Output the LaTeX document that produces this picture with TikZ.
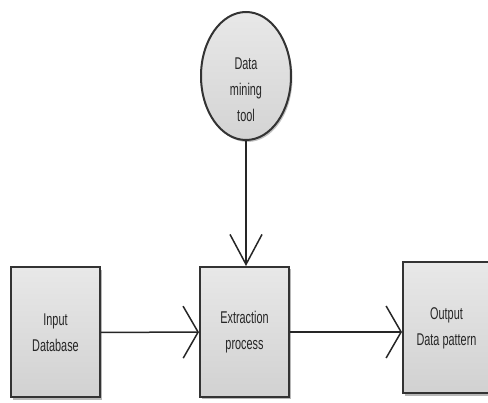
\documentclass[tikz,border=0pt]{standalone}
\usepackage{fontspec}
\newfontfamily\diagfont[FakeStretch=0.64]{Liberation Sans}
\usetikzlibrary{shapes.geometric, arrows.meta, shadows}

\begin{document}
\begin{tikzpicture}[x=1pt, y=-1pt,
  every node/.style={font=\diagfont\fontsize{17}{26}\selectfont, text=black!85, align=center},
  blokk/.style={draw=black!80, line width=2pt, top color=black!9, bottom color=black!18,
    minimum width=89pt, minimum height=130pt,
    drop shadow={shadow xshift=2pt, shadow yshift=-2.5pt, fill=black!40, opacity=0.7}},
  verktoy/.style={ellipse, draw=black!80, line width=2pt, top color=black!9, bottom color=black!17,
    minimum width=90pt, minimum height=128pt,
    drop shadow={shadow xshift=1.5pt, shadow yshift=-2pt, fill=black!40, opacity=0.6}},
  harrow/.style={draw=black!85, line width=1.5pt, -{Straight Barb[length=15pt, width=52pt]}},
  varrow/.style={draw=black!85, line width=1.5pt, -{Straight Barb[length=30pt, width=32pt]}}]
  % Ramme
  \useasboundingbox (0,0) rectangle (488,403);
  \clip (0,0) rectangle (488,403);
  % Verktoy
  \node[verktoy] (tool) at (246,76) {};
  \node (toollabel) at ([yshift=-14pt]tool.center) {Data\\mining\\tool};
  % Blokker
  \node[blokk] (input) at (55.5,332.5) {Input\\Database};
  \node[blokk] (extract) at (244.5,332) {Extraction\\process};
  \node[blokk, minimum width=87pt, minimum height=131pt] (output) at (446.5,328) {Output\\Data pattern};
  % Piler
  \draw[varrow] (tool.south) -- (tool.south |- extract.north);
  \draw[harrow] (input) -- (extract);
  \draw[harrow] (extract.east) -- (extract.east -| output.west);
\end{tikzpicture}
\end{document}
